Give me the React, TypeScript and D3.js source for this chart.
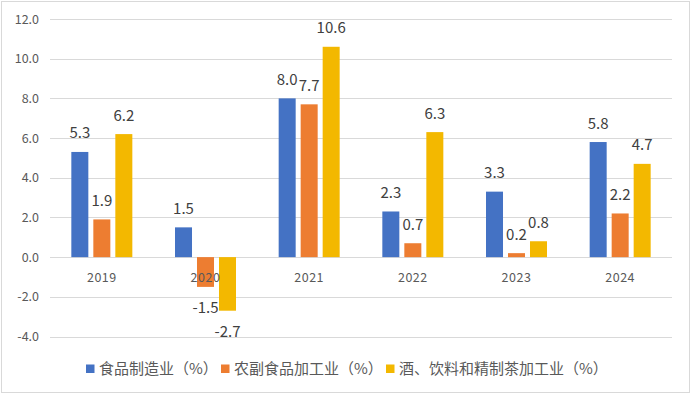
import React from 'react'
import * as d3 from 'd3'

const years = ['2019', '2020', '2021', '2022', '2023', '2024']
const seriesNames = ['食品制造业（%）', '农副食品加工业（%）', '酒、饮料和精制茶加工业（%）']
const foodMfg = [5.3, 1.5, 8.0, 2.3, 3.3, 5.8]
const agriProc = [1.9, -1.5, 7.7, 0.7, 0.2, 2.2]
const beverage = [6.2, -2.7, 10.6, 6.3, 0.8, 4.7]
const yTicks = [-4, -2, 0, 2, 4, 6, 8, 10, 12]
const colors = ['#4472C4', '#ED7D31', '#F3B800']

const W = 692
const H = 394
const font = '"Noto Sans CJK SC", "Noto Sans", sans-serif'

// plain hyphen for negatives, like the source chart
const fmt = (v: number) => d3.format('.1f')(v).replace('\u2212', '-')

const App: React.FC = () => {
  const values = [foodMfg, agriProc, beverage]

  const x0 = d3.scaleBand().domain(years).range([50, 672]).padding(0)
  const x1 = d3.scaleBand()
    .domain(seriesNames)
    .range([-30.5, 30.5])
    .paddingInner(0.227)
    .paddingOuter(0)
  const y = d3.scaleLinear().domain([-4, 12]).range([336.5, 19])

  // legend layout
  const legendX = [86, 221, 386]

  return (
    <div style={{ position: 'absolute', left: 0, top: 0 }}>
      <svg width={W} height={H} style={{ display: 'block', fontFamily: font }}>
        <rect x={0} y={0} width={W} height={H} fill="#fff" />
        <rect x={1.5} y={1.5} width={W - 4} height={H - 3} fill="none" stroke="#d9d9d9" />

        {/* gridlines */}
        {yTicks.map(t => (
          <line key={t} x1={50} x2={672} y1={Math.round(y(t)) + 0.5} y2={Math.round(y(t)) + 0.5}
            stroke="#d9d9d9" strokeWidth={1} />
        ))}

        {/* y tick labels */}
        {yTicks.map(t => (
          <text key={t} x={39} y={y(t) + 4.5} textAnchor="end" fontSize={12.5} fill="#595959">
            {fmt(t)}
          </text>
        ))}

        {/* bars */}
        {values.map((vals, si) => (
          <g key={si}>
            {vals.map((v, i) => {
              const cx = x0(years[i])! + x0.bandwidth() / 2
              const bx = cx + x1(seriesNames[si])!
              const top = Math.min(y(v), y(0))
              const h = Math.abs(y(v) - y(0))
              return <rect key={i} x={bx} y={top} width={x1.bandwidth()} height={h} fill={colors[si]} />
            })}
          </g>
        ))}

        {/* category labels */}
        {years.map(yr => (
          <text key={yr} x={x0(yr)! + x0.bandwidth() / 2} y={282} textAnchor="middle"
            fontSize={12.5} fill="#595959" letterSpacing={0.5}>
            {yr}
          </text>
        ))}

        {/* data labels */}
        {values.map((vals, si) => (
          <g key={si}>
            {vals.map((v, i) => {
              const cx = x0(years[i])! + x0.bandwidth() / 2 + x1(seriesNames[si])! + x1.bandwidth() / 2
              const ty = v >= 0 ? y(v) - 13.5 : y(v) + 26
              return (
                <text key={i} x={cx} y={ty} textAnchor="middle" fontSize={15} fill="#404040">
                  {fmt(v)}
                </text>
              )
            })}
          </g>
        ))}

        {/* legend */}
        {seriesNames.map((name, si) => (
          <g key={name} transform={`translate(${legendX[si]},369)`}>
            <rect x={0} y={-4.5} width={8.5} height={8.5} fill={colors[si]} />
            <text x={13} y={5} fontSize={15} fill="#595959">{name}</text>
          </g>
        ))}
      </svg>
    </div>
  )
}

export default App
